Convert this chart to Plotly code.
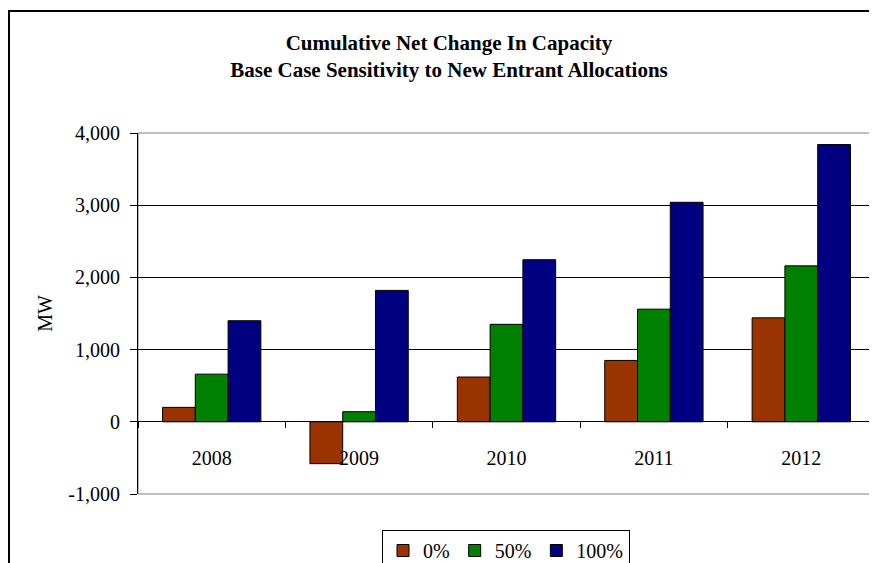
import plotly.graph_objects as go

years = ["2008", "2009", "2010", "2011", "2012"]
series_names = ["0%", "50%", "100%"]
vals_0 = [200, -580, 620, 850, 1440]
vals_50 = [660, 140, 1350, 1560, 2160]
vals_100 = [1400, 1820, 2245, 3040, 3840]
colors = ["#993300", "#008000", "#000080"]
y_ticks = [-1000, 0, 1000, 2000, 3000, 4000]
y_tick_labels = ["-1,000", "0", "1,000", "2,000", "3,000", "4,000"]

FONT = "Liberation Serif"
OFF = 8  # page body margin
W, H = 877, 563
# desired plot area in page pixels: x 138..875, y 133..494
L = 138 - OFF
T = 133 - OFF
R = W - (875 - OFF)
B = H - (494 - OFF)
pw, ph = W - L - R, H - T - B

fig = go.Figure()
for name, vals, col in zip(series_names, [vals_0, vals_50, vals_100], colors):
    fig.add_trace(go.Bar(x=years, y=vals, name=name, marker_color=col,
                         marker_line=dict(color="black", width=1)))

def px_x(x):
    return (x - OFF - L) / pw

def px_y(y):
    return (H - B - (y - OFF)) / ph

fig.update_layout(
    width=W, height=H,
    margin=dict(l=L, r=R, t=T, b=B, autoexpand=False),
    paper_bgcolor="white", plot_bgcolor="white",
    barmode="group", bargap=0.333, bargroupgap=0,
    font=dict(family=FONT, size=20, color="black"),
    title=dict(text="<b>Cumulative Net Change In Capacity<br>Base Case Sensitivity to New Entrant Allocations</b>",
               x=(449 - OFF) / W, xref="container", xanchor="center",
               y=1 - (50 - OFF) / H, yanchor="middle",
               font=dict(family=FONT, size=21, color="black")),
    xaxis=dict(anchor="free", position=px_y(421), showline=True, linecolor="black", linewidth=1,
               ticks="outside", tickson="boundaries", ticklen=6, tickcolor="black",
               showgrid=False, ticklabelstandoff=19, automargin=False,
               tickfont=dict(family=FONT, size=20)),
    yaxis=dict(range=[-1000, 4000], tickvals=y_ticks, ticktext=y_tick_labels,
               showline=True, linecolor="black", linewidth=1, ticks="outside", ticklen=7,
               tickcolor="black", showgrid=True, gridcolor="black", gridwidth=1,
               zeroline=False, automargin=False, ticklabelstandoff=6,
               title=dict(text="MW", font=dict(family=FONT, size=20), standoff=10),
               tickfont=dict(family=FONT, size=20)),
    legend=dict(orientation="h", x=px_x(506), xanchor="center", y=px_y(530), yanchor="top",
                bordercolor="black", borderwidth=1, font=dict(family=FONT, size=20),
                itemwidth=30, tracegroupgap=0),
    showlegend=True,
)

# plot area border (gray)
fig.add_shape(type="rect", xref="paper", yref="paper", x0=0, x1=1, y0=0, y1=1,
              line=dict(color="#808080", width=1), layer="below")
# outer chart border
fig.add_shape(type="rect", xref="paper", yref="paper", x0=px_x(9), x1=px_x(900),
              y0=px_y(600), y1=px_y(11), line=dict(color="black", width=2))

fig.write_html("out.html")
